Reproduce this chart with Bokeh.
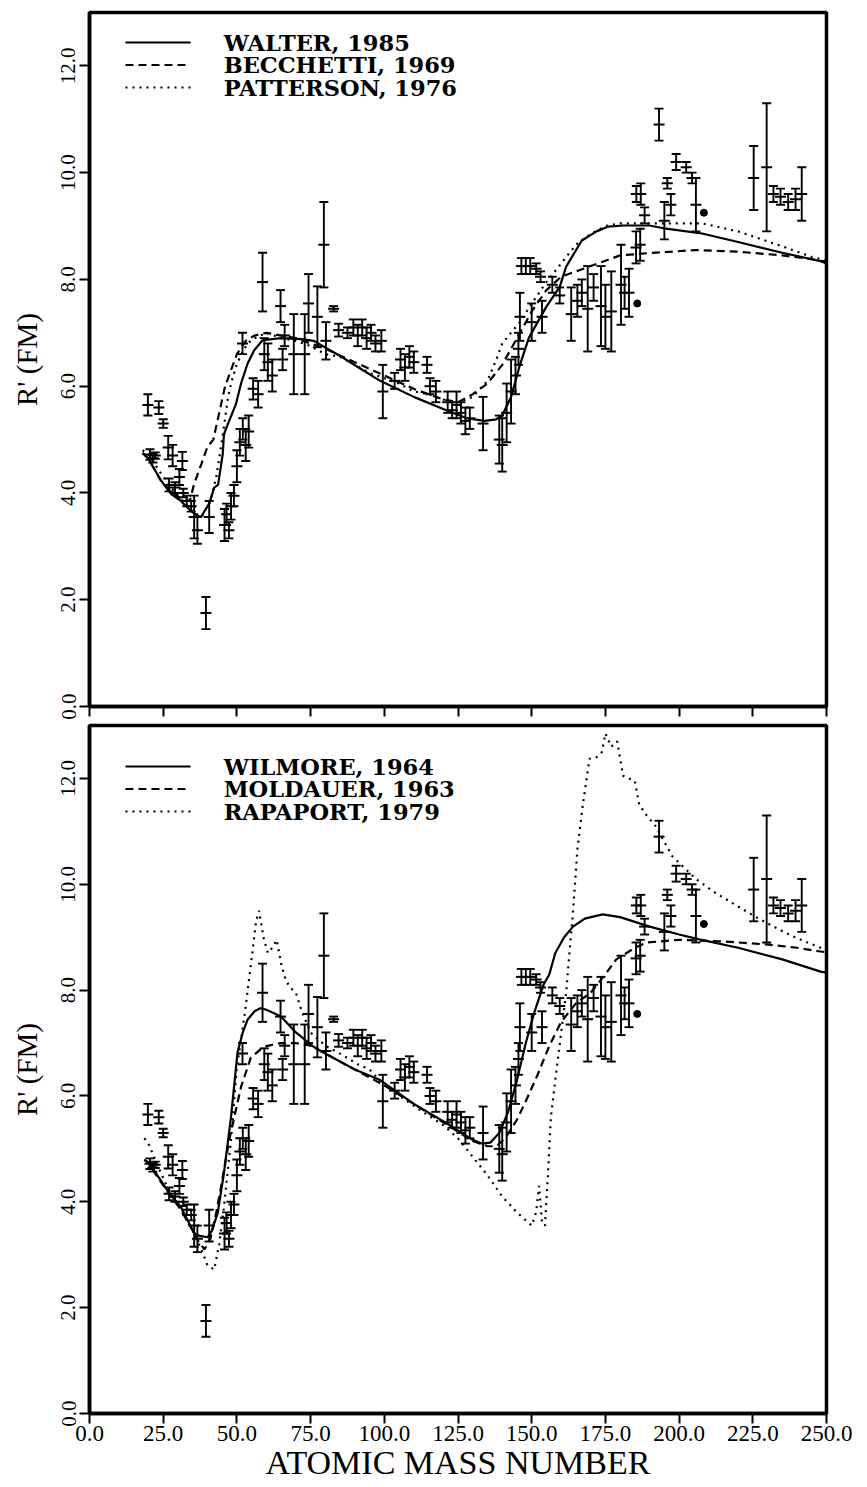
from bokeh.plotting import figure
from bokeh.models import (ColumnDataSource, Whisker, TeeHead, FixedTicker,
                          PrintfTickFormatter, Range1d)
from bokeh.layouts import column
from bokeh.embed import file_html
from bokeh.resources import INLINE
from bokeh.core.properties import value

# ---------------- experimental data (same in both panels) ----------------
exp_A = [19.8, 23.5, 25.0, 20.5, 21.5, 22.3, 26.7, 28.2, 31.5, 27.0,
         29.0, 30.5, 31.8, 33.0, 34.5, 35.5, 36.6, 39.5, 40.6, 45.8,
         46.5, 47.3, 48.0, 49.0, 50.0, 51.0, 52.0, 53.0, 54.0, 51.9,
         55.5, 57.2, 58.7, 59.3, 60.5, 62.0, 64.8, 65.5, 66.2, 69.3,
         73.0, 74.3, 77.3, 79.5, 80.2, 82.8, 84.5, 87.5, 89.5, 91.0,
         92.5, 94.0, 95.5, 97.0, 99.0, 99.5, 103.5, 105.5, 107.0, 108.5,
         110.0, 114.5, 115.5, 117.5, 121.5, 123.0, 124.5, 126.0, 127.5, 129.0,
         133.5, 139.0, 140.0, 141.5, 143.0, 144.5, 145.5, 146.5, 148.0, 149.5,
         151.5, 153.0, 146.0, 150.0, 153.5, 157.0, 159.5, 163.4, 165.5, 167.0,
         169.0, 171.0, 173.5, 175.0, 177.0, 180.3, 181.5, 183.0, 185.4, 186.8,
         185.5, 187.0, 188.3, 193.2, 195.0, 196.0, 197.2, 199.0, 202.4, 204.4,
         205.7, 225.3, 229.7, 232.0, 234.4, 237.0, 239.5, 241.6]
exp_R = [5.65, 5.60, 5.30, 4.72, 4.65, 4.70, 4.85, 4.70, 4.60, 4.15,
         4.10, 4.30, 4.00, 3.85, 3.75, 3.55, 3.30, 1.75, 3.55, 3.40,
         3.60, 3.30, 3.75, 3.95, 4.50, 4.95, 5.20, 4.90, 5.15, 6.80,
         5.95, 5.85, 7.95, 6.60, 6.45, 6.20, 7.50, 6.50, 6.95, 6.60,
         6.60, 7.55, 7.30, 8.65, 6.85, 7.45, 7.05, 7.00, 7.10, 6.95,
         7.10, 6.90, 7.00, 6.80, 6.85, 5.90, 6.10, 6.50, 6.35, 6.55,
         6.45, 6.40, 6.00, 5.90, 5.70, 5.55, 5.65, 5.50, 5.35, 5.40,
         5.30, 5.00, 4.90, 5.50, 5.90, 6.20, 6.70, 8.25, 8.25, 8.25,
         8.20, 8.05, 7.30, 7.20, 7.30, 7.90, 7.70, 7.35, 7.60, 7.75,
         7.45, 7.85, 7.50, 7.30, 7.40, 7.90, 7.75, 7.75, 8.60, 8.65,
         9.60, 9.60, 9.20, 10.90, 9.10, 9.80, 9.40, 10.20, 10.10, 9.90,
         9.40, 9.90, 10.10, 9.60, 9.55, 9.45, 9.50, 9.60]
exp_err = [0.20, 0.12, 0.08, 0.10, 0.08, 0.06, 0.22, 0.20, 0.17, 0.12,
           0.10, 0.15, 0.08, 0.10, 0.10, 0.40, 0.25, 0.30, 0.30, 0.30,
           0.20, 0.15, 0.25, 0.20, 0.30, 0.25, 0.20, 0.30, 0.30, 0.20,
           0.20, 0.25, 0.55, 0.30, 0.35, 0.30, 0.30, 0.20, 0.20, 0.75,
           0.75, 0.55, 0.57, 0.80, 0.35, 0.05, 0.12, 0.10, 0.15, 0.20,
           0.15, 0.20, 0.15, 0.15, 0.20, 0.50, 0.15, 0.20, 0.25, 0.20,
           0.20, 0.15, 0.15, 0.20, 0.20, 0.15, 0.25, 0.20, 0.25, 0.20,
           0.50, 0.45, 0.50, 0.55, 0.60, 0.35, 0.30, 0.15, 0.15, 0.15,
           0.10, 0.10, 0.45, 0.35, 0.30, 0.15, 0.15, 0.50, 0.30, 0.25,
           0.80, 0.25, 0.75, 0.60, 0.75, 0.75, 0.30, 0.45, 0.30, 0.30,
           0.15, 0.20, 0.15, 0.30, 0.35, 0.10, 0.20, 0.15, 0.10, 0.10,
           0.50, 0.60, 1.20, 0.15, 0.15, 0.15, 0.20, 0.50]
dot_A = [185.8, 208.4]
dot_R = [7.55, 9.25]

# ---------------- model curves, top panel ----------------
walter_A = [18, 20, 24.3, 27.7, 31, 34.5, 36.7, 37.8, 40.6, 42.3, 43.6, 45.2, 45.6, 47,
            49.7, 51.4, 53.6, 55.8, 58.7, 65, 72, 76, 80.7, 84, 91, 98.6, 110, 121, 128,
            134, 138, 140, 143, 146, 149, 152, 155, 159.5, 161.7, 167, 172, 176, 181,
            190, 195.5, 200, 207.8, 220, 235, 248, 250]
walter_R = [4.75, 4.64, 4.23, 3.98, 3.85, 3.66, 3.57, 3.55, 3.80, 4.10, 4.15, 4.73, 5.10, 5.30,
            5.67, 6.05, 6.42, 6.67, 6.86, 6.90, 6.88, 6.85, 6.70, 6.60, 6.36, 6.10, 5.80, 5.55, 5.40,
            5.35, 5.38, 5.45, 5.80, 6.40, 6.90, 7.20, 7.49, 7.86, 8.24, 8.73, 8.90, 8.99, 9.01,
            9.01, 8.95, 8.92, 8.86, 8.70, 8.50, 8.34, 8.30]
becchetti_A = [18, 20, 24, 28, 31, 34, 35.5, 38, 40, 42, 44, 46, 48, 50, 53, 56, 60, 65,
               70, 75, 80, 90, 100, 110, 120, 125, 130, 135, 140, 145, 150, 155, 160, 165,
               170, 175, 180, 189, 205.7, 220, 235, 245, 250]
becchetti_R = [4.75, 4.64, 4.25, 4.00, 3.90, 3.85, 4.17, 4.55, 4.86, 5.00, 5.50, 6.00, 6.30, 6.60,
               6.85, 6.95, 7.00, 6.95, 6.90, 6.80, 6.70, 6.45, 6.20, 5.95, 5.75, 5.70, 5.85,
               6.05, 6.40, 6.90, 7.40, 7.80, 8.05, 8.15, 8.25, 8.35, 8.45, 8.49, 8.55, 8.52,
               8.45, 8.38, 8.33]
patterson_A = [18, 20, 25, 30, 35, 38, 41, 43, 44.6, 46, 47, 48.5, 50, 52, 53.6, 56, 58, 60,
               65, 70, 75, 80, 85, 90, 95, 100, 105, 110, 115, 120, 125, 130, 135, 138, 140,
               143, 146, 150, 155, 160, 165, 170, 175, 180, 185, 195, 207.8, 220, 235, 245, 250]
patterson_R = [4.80, 4.72, 4.30, 3.95, 3.65, 3.55, 3.85, 4.30, 4.86, 5.40, 5.80, 6.15, 6.42,
               6.65, 6.80, 6.90, 6.95, 7.00, 6.90, 6.85, 6.75, 6.60, 6.55, 6.40, 6.25, 6.15,
               6.05, 5.90, 5.85, 5.75, 5.70, 5.80, 6.10, 6.50, 6.80, 7.00, 7.20, 7.55, 7.95,
               8.30, 8.65, 8.85, 9.00, 9.05, 9.05, 9.05, 9.05, 8.90, 8.62, 8.42, 8.35]

# ---------------- model curves, bottom panel ----------------
wilmore_A = [18.6, 20, 27, 31, 35.5, 37, 40, 41.5, 43.5, 45.6, 48, 50.2, 52, 53.6, 56, 58,
             60, 65, 70, 76, 80, 90, 98.6, 110, 121, 130, 133, 136, 139, 142, 145, 148, 151,
             154, 156, 158, 161, 164, 168, 174, 180, 190, 200, 206.8, 220, 235, 248, 250]
wilmore_R = [4.79, 4.75, 4.17, 3.90, 3.41, 3.36, 3.33, 3.45, 3.79, 4.54, 5.60, 6.82, 7.20,
             7.44, 7.60, 7.66, 7.63, 7.50, 7.20, 6.93, 6.80, 6.50, 6.30, 5.85, 5.49, 5.17,
             5.10, 5.12, 5.30, 5.70, 6.30, 7.00, 7.60, 8.10, 8.30, 8.70, 9.00, 9.20, 9.35,
             9.43, 9.38, 9.20, 9.05, 8.96, 8.80, 8.58, 8.35, 8.33]
moldauer_A = [18.6, 20, 27, 31, 35, 37, 39, 41, 43, 44.6, 47.4, 51.4, 54.7, 59, 65, 70, 75,
              80, 90, 100, 110, 120, 130, 135, 138, 141, 145, 148, 152, 156, 160, 165, 170,
              175, 178.7, 185, 189, 200, 215, 230.4, 240, 248, 250]
moldauer_R = [4.80, 4.72, 4.15, 3.85, 3.45, 3.25, 3.10, 3.30, 3.80, 4.28, 5.17, 6.17, 6.72,
              6.93, 7.00, 7.00, 6.95, 6.80, 6.50, 6.20, 5.85, 5.50, 5.15, 5.05, 5.05, 5.20,
              5.55, 5.90, 6.40, 6.95, 7.40, 7.75, 7.95, 8.30, 8.58, 8.80, 8.90, 8.95, 8.92,
              8.86, 8.80, 8.73, 8.72]
rapaport_A = [18.6, 20, 23, 27, 31, 35, 38, 40, 42.3, 44, 45.6, 48, 50, 51.4, 53, 55, 56.5,
              57.5, 59, 60.5, 62, 63.5, 65, 66.5, 68, 70, 72, 75, 80, 85, 91, 95, 100, 105.4,
              112, 120, 125, 130, 135, 140, 145, 148, 150, 151.5, 152.5, 153.5, 154.5, 155.5,
              156.5, 158, 160, 161.7, 162.8, 164, 165.5, 167.3, 169.6, 172, 173.8, 175, 177,
              179, 181, 183, 185, 186.5, 189, 192, 197.7, 205.7, 212, 220, 227, 233.8, 240,
              248, 250]
rapaport_R = [5.20, 5.10, 4.70, 4.20, 3.85, 3.45, 3.10, 2.80, 2.72, 3.20, 3.90, 5.17, 6.55,
              7.06, 7.70, 8.60, 9.30, 9.50, 9.00, 8.70, 8.80, 8.95, 8.50, 8.20, 8.05, 7.95,
              7.60, 7.20, 6.95, 6.80, 6.60, 6.50, 6.20, 5.99, 5.74, 5.45, 5.20, 4.85, 4.50,
              4.10, 3.80, 3.65, 3.55, 3.80, 4.30, 3.60, 3.55, 4.50, 5.60, 6.30, 7.20, 7.95,
              8.70, 9.47, 10.66, 11.48, 12.37, 12.40, 12.50, 12.85, 12.60, 12.70, 12.05,
              12.00, 11.95, 11.50, 11.30, 11.10, 10.53, 10.10, 9.85, 9.58, 9.35, 9.15, 8.98,
              8.80, 8.75]

# ---------------- axes / legend text ----------------
x_ticks = [0, 25, 50, 75, 100, 125, 150, 175, 200, 225, 250]
y_ticks = [0, 2, 4, 6, 8, 10, 12]
top_labels = ["WALTER, 1985", "BECCHETTI, 1969", "PATTERSON, 1976"]
bottom_labels = ["WILMORE, 1964", "MOLDAUER, 1963", "RAPAPORT, 1979"]
x_title = "ATOMIC MASS NUMBER"
y_title = "R' (FM)"

DASHES = ["solid", "8 5", "2 5"]
SERIF = "Liberation Serif"


def make_panel(height, border_top, border_bottom, curves, labels, legend_top_px, show_x):
    p = figure(width=867, height=height, x_range=Range1d(0, 250), y_range=Range1d(0, 13),
               output_backend="svg", toolbar_location=None,
               min_border_left=89, min_border_right=41,
               min_border_top=border_top, min_border_bottom=border_bottom)
    p.grid.visible = False
    p.outline_line_color = "black"
    p.outline_line_width = 3.5
    p.background_fill_color = "white"
    p.border_fill_color = "white"

    for ax in (p.xaxis[0], p.yaxis[0]):
        ax.axis_line_width = 3.5
        ax.major_tick_line_width = 2
        ax.major_tick_out = 10
        ax.major_tick_in = 0
        ax.minor_tick_out = 0
        ax.minor_tick_in = 0
        ax.major_label_text_font = SERIF
        ax.axis_label_text_font = SERIF
        ax.axis_label_text_font_style = "normal"
        ax.axis_label_text_color = "black"
        ax.major_label_text_color = "black"
        ax.formatter = PrintfTickFormatter(format="%.1f")

    p.xaxis.ticker = FixedTicker(ticks=x_ticks)
    p.yaxis.ticker = FixedTicker(ticks=y_ticks)
    p.yaxis.major_label_orientation = "vertical"
    p.yaxis.major_label_text_font_size = "21px"
    p.yaxis.major_label_standoff = 4
    p.yaxis.axis_label = y_title
    p.yaxis.axis_label_text_font_size = "29px"
    p.yaxis.axis_label_standoff = 16

    if show_x:
        p.xaxis.major_label_text_font_size = "23px"
        p.xaxis.major_label_standoff = 2
        p.xaxis.axis_label = x_title
        p.xaxis.axis_label_text_font_size = "34px"
        p.xaxis.axis_label_standoff = 0
    else:
        # ticks only, no numbers on the upper panel
        p.xaxis.major_label_overrides = {t: "" for t in x_ticks}
        p.xaxis.major_label_standoff = 0

    # experimental points with error bars
    lo = [r - e for r, e in zip(exp_R, exp_err)]
    hi = [r + e for r, e in zip(exp_R, exp_err)]
    src = ColumnDataSource(dict(A=exp_A, R=exp_R, lo=lo, hi=hi))
    wh = Whisker(base="A", lower="lo", upper="hi", source=src, line_width=1.9,
                 line_color="black",
                 lower_head=TeeHead(size=9, line_width=1.9, line_color="black"),
                 upper_head=TeeHead(size=9, line_width=1.9, line_color="black"))
    p.add_layout(wh)
    p.scatter("A", "R", source=src, marker="dash", size=11, line_width=2, line_color="black")
    p.scatter(dot_A, dot_R, marker="circle", size=7, fill_color="black", line_color="black")

    # model curves
    for (xa, ya), dash in zip(curves, DASHES):
        p.line(xa, ya, line_color="black", line_width=2.2, line_dash=dash)

    # legend drawn in the upper-left corner
    px_per_unit = (height - border_top - border_bottom) / 13.0
    row_h = 22.5
    ys = [13 - (legend_top_px + i * row_h) / px_per_unit for i in range(3)]
    for yv, dash in zip(ys, DASHES):
        p.line([12.2, 34.3], [yv, yv], line_color="black", line_width=2.2, line_dash=dash)
    p.text(x=[45.5] * 3, y=ys, text=labels, text_baseline="middle", text_align="left",
           text_font=value("DejaVu Serif"), text_font_style="bold",
           text_font_size="22.5px", text_color="black")
    return p


top = make_panel(721, 12, 15,
                 [(walter_A, walter_R), (becchetti_A, becchetti_R), (patterson_A, patterson_R)],
                 top_labels, 30, False)
bottom = make_panel(766, 4, 74,
                    [(wilmore_A, wilmore_R), (moldauer_A, moldauer_R), (rapaport_A, rapaport_R)],
                    bottom_labels, 41, True)

layout = column(top, bottom, spacing=0)
open("out.html", "w").write(file_html(layout, INLINE))
